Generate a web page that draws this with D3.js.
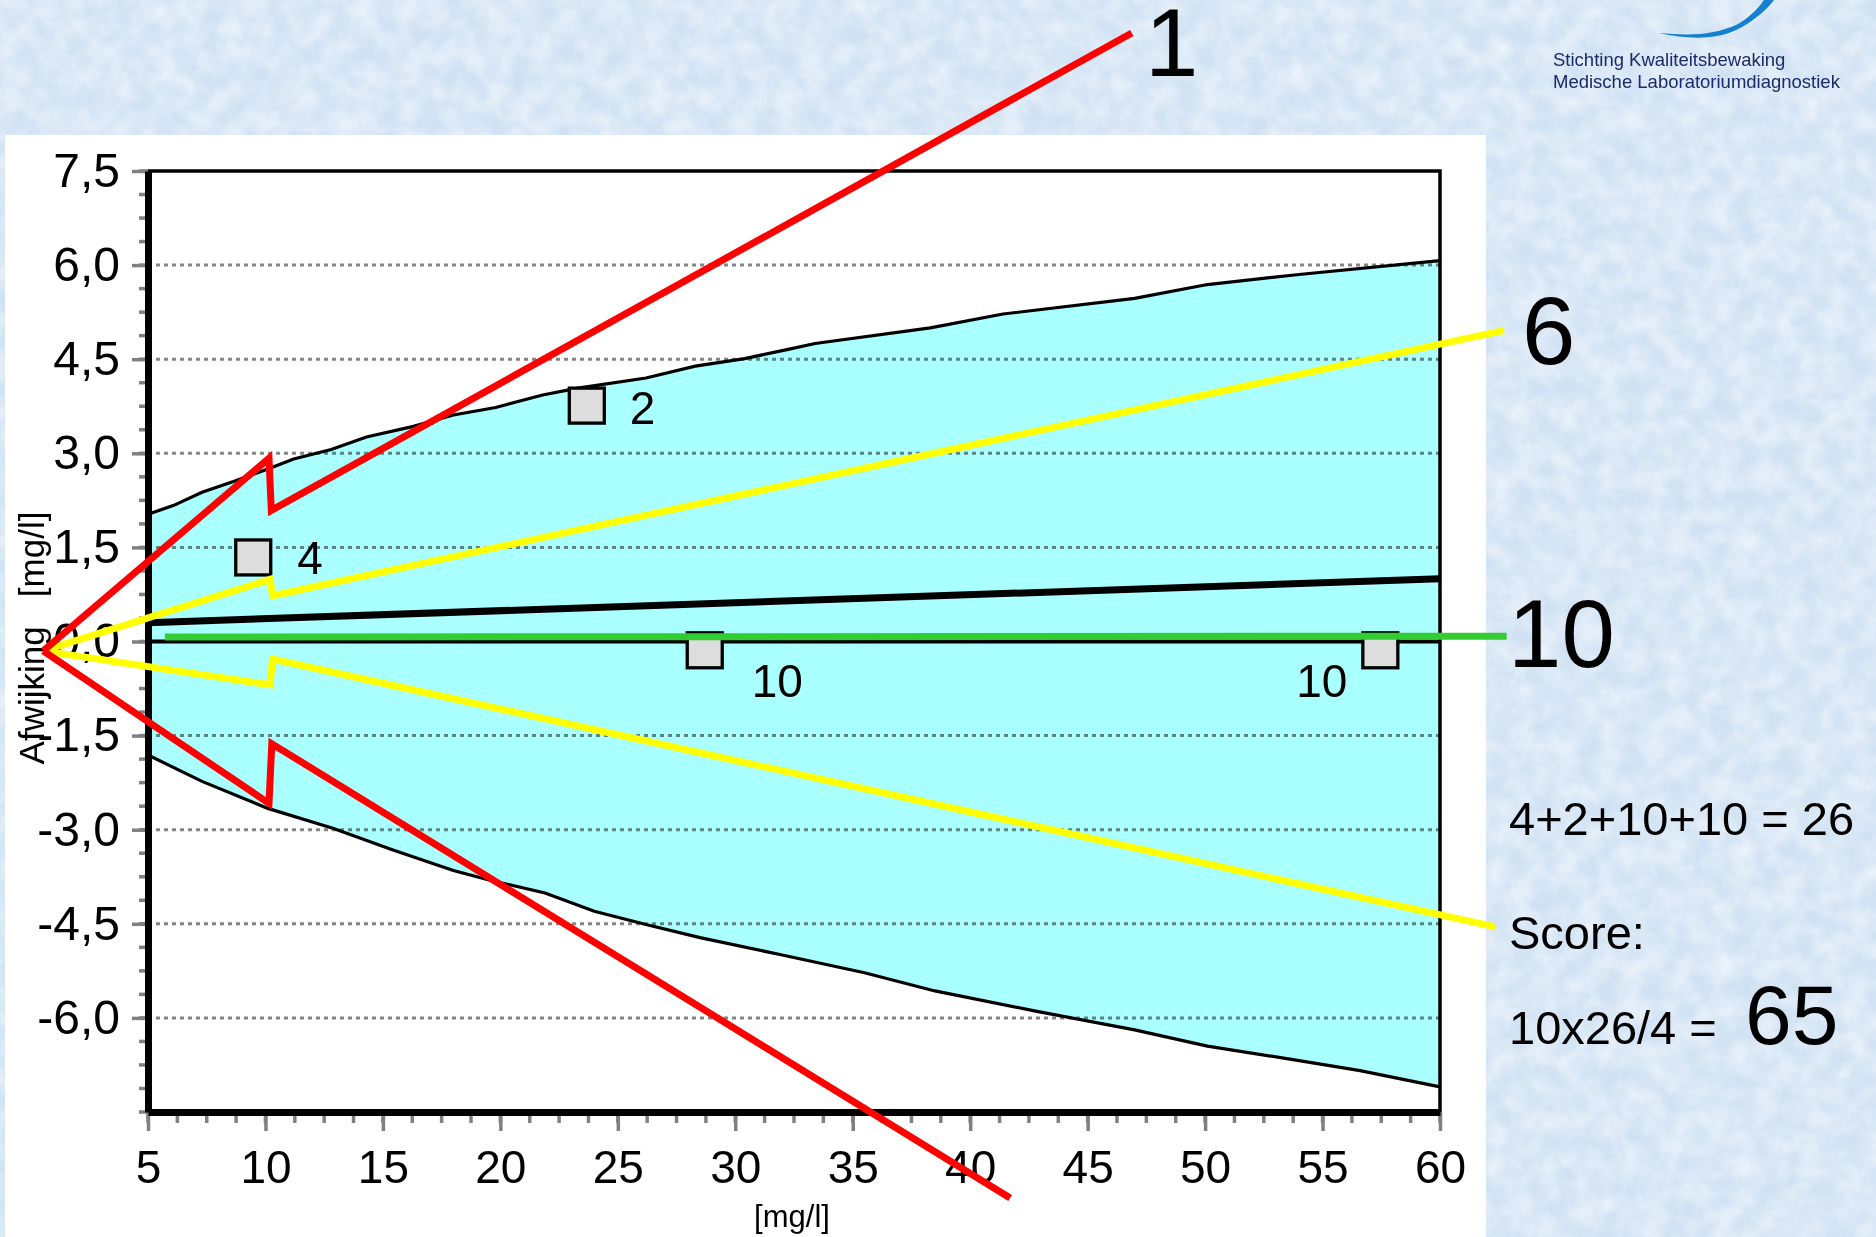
<!DOCTYPE html>
<html><head><meta charset="utf-8">
<script src="https://cdn.jsdelivr.net/npm/d3@7/dist/d3.min.js"></script>
<style>
html,body{margin:0;padding:0;background:#cfe1f3;}
svg{display:block;font-family:"Liberation Sans",Arial,sans-serif;}
</style></head>
<body>
<svg id="chart" width="1876" height="1237"></svg>
<script>
// ---------- data ----------
const upperX = [5, 6.1, 7.3, 8.7, 10.1, 11.2, 12.8, 14.3, 16.3, 18.0, 19.8, 21.8, 23.3, 26.2, 28.3, 30.4, 32.3, 33.4, 38.3, 41.4, 47.0, 50.1, 54.0, 60];
const upperY = [2.03, 2.17, 2.38, 2.56, 2.75, 2.91, 3.06, 3.26, 3.43, 3.61, 3.73, 3.93, 4.04, 4.20, 4.39, 4.51, 4.66, 4.75, 5.00, 5.22, 5.47, 5.69, 5.85, 6.07];
const lowerX = [5, 7.3, 10.1, 12.9, 15.4, 18.0, 19.6, 21.9, 24.0, 26.2, 28.5, 31.9, 35.5, 38.5, 42.9, 47.0, 50.1, 54.0, 56.6, 60];
const lowerY = [-1.81, -2.23, -2.66, -2.98, -3.32, -3.65, -3.81, -4.01, -4.30, -4.51, -4.72, -4.99, -5.28, -5.57, -5.90, -6.19, -6.45, -6.68, -6.84, -7.10];
const meanX = [5, 60];
const meanY = [0.30, 1.00];
const pointX = [9.48, 23.68, 28.70, 57.46];
const pointY = [1.34, 3.76, -0.14, -0.14];
const pointScore = ["4", "2", "10", "10"];
const xTicks = [5, 10, 15, 20, 25, 30, 35, 40, 45, 50, 55, 60];
const yTicks = [-6, -4.5, -3, -1.5, 0, 1.5, 3, 4.5, 6, 7.5];
// hand-drawn overlay lines (x, y in data units)
const redUpperX = [0.54, 10.15, 10.25, 46.88];
const redUpperY = [-0.15, 2.92, 2.09, 9.70];
const redLowerX = [0.54, 10.15, 10.27, 41.70];
const redLowerY = [-0.15, -2.58, -1.63, -8.87];
const yellowUpperX = [0.54, 10.2, 10.3, 62.73];
const yellowUpperY = [-0.15, 0.99, 0.73, 4.96];
const yellowLowerX = [0.54, 10.2, 10.3, 62.36];
const yellowLowerY = [-0.15, -0.69, -0.28, -4.55];
const greenX = [5.72, 62.84];
const greenY = [0.07, 0.085];
const overlayScores = ["1", "6", "10"];
const scoreLines = ["4+2+10+10 = 26", "Score:", "10x26/4 ="];
const finalScore = "65";
const logoLines = ["Stichting Kwaliteitsbewaking", "Medische Laboratoriumdiagnostiek"];

// ---------- setup ----------
const svg = d3.select("#chart");
const x = d3.scaleLinear().domain([5, 60]).range([148, 1440]);
const y = d3.scaleLinear().domain([-7.5, 7.5]).range([1112, 171]);
const fmt = v => d3.format(".1f")(v).replace(".", ",").replace("\u2212", "-");

const defs = svg.append("defs");
const f = defs.append("filter").attr("id", "tex").attr("x", 0).attr("y", 0).attr("width", 1).attr("height", 1);
f.append("feTurbulence").attr("type", "fractalNoise").attr("baseFrequency", "0.045").attr("numOctaves", 4).attr("seed", 7);
f.append("feColorMatrix").attr("type", "matrix")
  .attr("values", "0 0 0 0 1  0 0 0 0 1  0 0 0 0 1  0.9 0 0 0 -0.22");

// background
svg.append("rect").attr("width", 1876).attr("height", 1237).attr("fill", "#cfe1f3");
svg.append("rect").attr("width", 1876).attr("height", 1237).attr("filter", "url(#tex)");

// white panel
svg.append("rect").attr("x", 5).attr("y", 135).attr("width", 1481).attr("height", 1102).attr("fill", "#ffffff");

// band
const upperPts = upperX.map((d, i) => [d, upperY[i]]);
const lowerPts = lowerX.map((d, i) => [d, lowerY[i]]);
const line = d3.line().x(d => x(d[0])).y(d => y(d[1]));
svg.append("path").attr("d", line(upperPts.concat(lowerPts.slice().reverse())) + "Z")
  .attr("fill", "#aaffff");

// gridlines
svg.append("g").selectAll("line").data(yTicks.filter(v => v !== 7.5)).join("line")
  .attr("x1", x(5)).attr("x2", x(60)).attr("y1", d => y(d)).attr("y2", d => y(d))
  .attr("stroke", "#858585").attr("stroke-width", 3).attr("stroke-dasharray", "4 4")
  .style("mix-blend-mode", "multiply");

// band boundaries
svg.append("path").attr("d", line(upperPts)).attr("fill", "none").attr("stroke", "#000").attr("stroke-width", 3.2);
svg.append("path").attr("d", line(lowerPts)).attr("fill", "none").attr("stroke", "#000").attr("stroke-width", 3.2);

// zero line
svg.append("line").attr("x1", x(5)).attr("x2", x(60)).attr("y1", y(0)).attr("y2", y(0))
  .attr("stroke", "#000").attr("stroke-width", 4);

// mean line
svg.append("path").attr("d", line(meanX.map((d, i) => [d, meanY[i]])))
  .attr("fill", "none").attr("stroke", "#000").attr("stroke-width", 7);

// frame top/right
svg.append("path").attr("d", `M${x(5)},${y(7.5)}H${x(60)}V${y(-7.5)}`)
  .attr("fill", "none").attr("stroke", "#000").attr("stroke-width", 3.5);

// minor ticks
const xMinor = d3.range(5, 60.001, 1.25);
const yMinor = d3.range(-7.5, 7.501, 0.375);
svg.append("g").selectAll("line").data(xMinor).join("line")
  .attr("x1", d => x(d)).attr("x2", d => x(d)).attr("y1", y(-7.5)).attr("y2", y(-7.5) + 11)
  .attr("stroke", "#808080").attr("stroke-width", 3.5);
svg.append("g").selectAll("line").data(yMinor).join("line")
  .attr("x1", x(5) - 9).attr("x2", x(5)).attr("y1", d => y(d)).attr("y2", d => y(d))
  .attr("stroke", "#808080").attr("stroke-width", 3.5);

// axes
const xAxis = svg.append("g").attr("transform", `translate(0,${y(-7.5)})`)
  .call(d3.axisBottom(x).tickValues(xTicks).tickFormat(d3.format("d")).tickSize(19).tickSizeOuter(0).tickPadding(19));
xAxis.select(".domain").attr("stroke", "#000").attr("stroke-width", 7);
xAxis.selectAll(".tick line").attr("stroke", "#808080").attr("stroke-width", 3.5);
xAxis.selectAll(".tick text").attr("fill", "#000").attr("font-size", 46)
  .attr("font-family", "Liberation Sans, Arial, sans-serif");

const yAxis = svg.append("g").attr("transform", `translate(${x(5)},0)`)
  .call(d3.axisLeft(y).tickValues(yTicks).tickFormat(fmt).tickSize(16).tickSizeOuter(0).tickPadding(12));
yAxis.select(".domain").attr("stroke", "#000").attr("stroke-width", 7);
yAxis.selectAll(".tick line").attr("stroke", "#808080").attr("stroke-width", 3.5);
yAxis.selectAll(".tick text").attr("fill", "#000").attr("font-size", 48)
  .attr("font-family", "Liberation Sans, Arial, sans-serif");
yAxis.select(".domain").raise();
xAxis.select(".domain").raise();

// axis titles
svg.append("text").attr("x", (x(5) + x(60)) / 2 - 2).attr("y", 1227)
  .attr("text-anchor", "middle").attr("font-size", 31).text("[mg/l]");
svg.append("text").attr("transform", "translate(44,638) rotate(-90)")
  .attr("text-anchor", "middle").attr("font-size", 35).style("white-space", "pre")
  .text("Afwijking   [mg/l]");

// points
const S = 35;
svg.append("g").selectAll("rect").data(pointX).join("rect")
  .attr("x", (d) => x(d) - S / 2).attr("y", (d, i) => y(pointY[i]) - S / 2)
  .attr("width", S).attr("height", S)
  .attr("fill", "#dddddd").attr("stroke", "#000").attr("stroke-width", 3.3);
const lblOff = [[44, 17, "start"], [43, 18, "start"], [47, 47, "start"], [-33, 47, "end"]];
svg.append("g").selectAll("text").data(pointScore).join("text")
  .attr("x", (d, i) => x(pointX[i]) + lblOff[i][0])
  .attr("y", (d, i) => y(pointY[i]) + lblOff[i][1])
  .attr("text-anchor", (d, i) => lblOff[i][2])
  .attr("font-size", 46).text(d => d);

// overlays
const ov = (xs, ys) => xs.map((d, i) => [d, ys[i]]);
const ovStyle = (p, c) => p.attr("fill", "none").attr("stroke", c).attr("stroke-width", 7)
  .attr("stroke-linejoin", "miter").attr("stroke-miterlimit", 6);
ovStyle(svg.append("path").attr("d", line(ov(greenX, greenY))), "#33cc33");
ovStyle(svg.append("path").attr("d", line(ov(yellowUpperX, yellowUpperY))), "#ffff00");
ovStyle(svg.append("path").attr("d", line(ov(yellowLowerX, yellowLowerY))), "#ffff00");
ovStyle(svg.append("path").attr("d", line(ov(redUpperX, redUpperY))), "#ff0000");
ovStyle(svg.append("path").attr("d", line(ov(redLowerX, redLowerY))), "#ff0000");

// big numbers at line ends
const bigPos = [[1145, 76], [1522, 364], [1508, 667]];
svg.append("g").selectAll("text").data(overlayScores).join("text")
  .attr("x", (d, i) => bigPos[i][0]).attr("y", (d, i) => bigPos[i][1])
  .attr("font-size", 96).text(d => d);

// score text
const sPos = [835, 949, 1044];
svg.append("g").selectAll("text").data(scoreLines).join("text")
  .attr("x", 1509).attr("y", (d, i) => sPos[i]).attr("font-size", 47).text(d => d);
svg.append("text").attr("x", 1745).attr("y", 1044).attr("font-size", 84).text(finalScore);

// logo
svg.append("path")
  .attr("d", "M1659,33 C1690,40 1720,40 1742,27 C1756,19 1767,9 1774,0 L1764,0 C1757,10 1748,18 1738,24 C1715,35 1690,36 1659,33 Z")
  .attr("fill", "#1580d0");
svg.append("g").selectAll("text").data(logoLines).join("text")
  .attr("x", 1553).attr("y", (d, i) => 66 + i * 21.5)
  .attr("font-size", 18.5).attr("fill", "#1b2a6b").text(d => d);
</script>
</body></html>
